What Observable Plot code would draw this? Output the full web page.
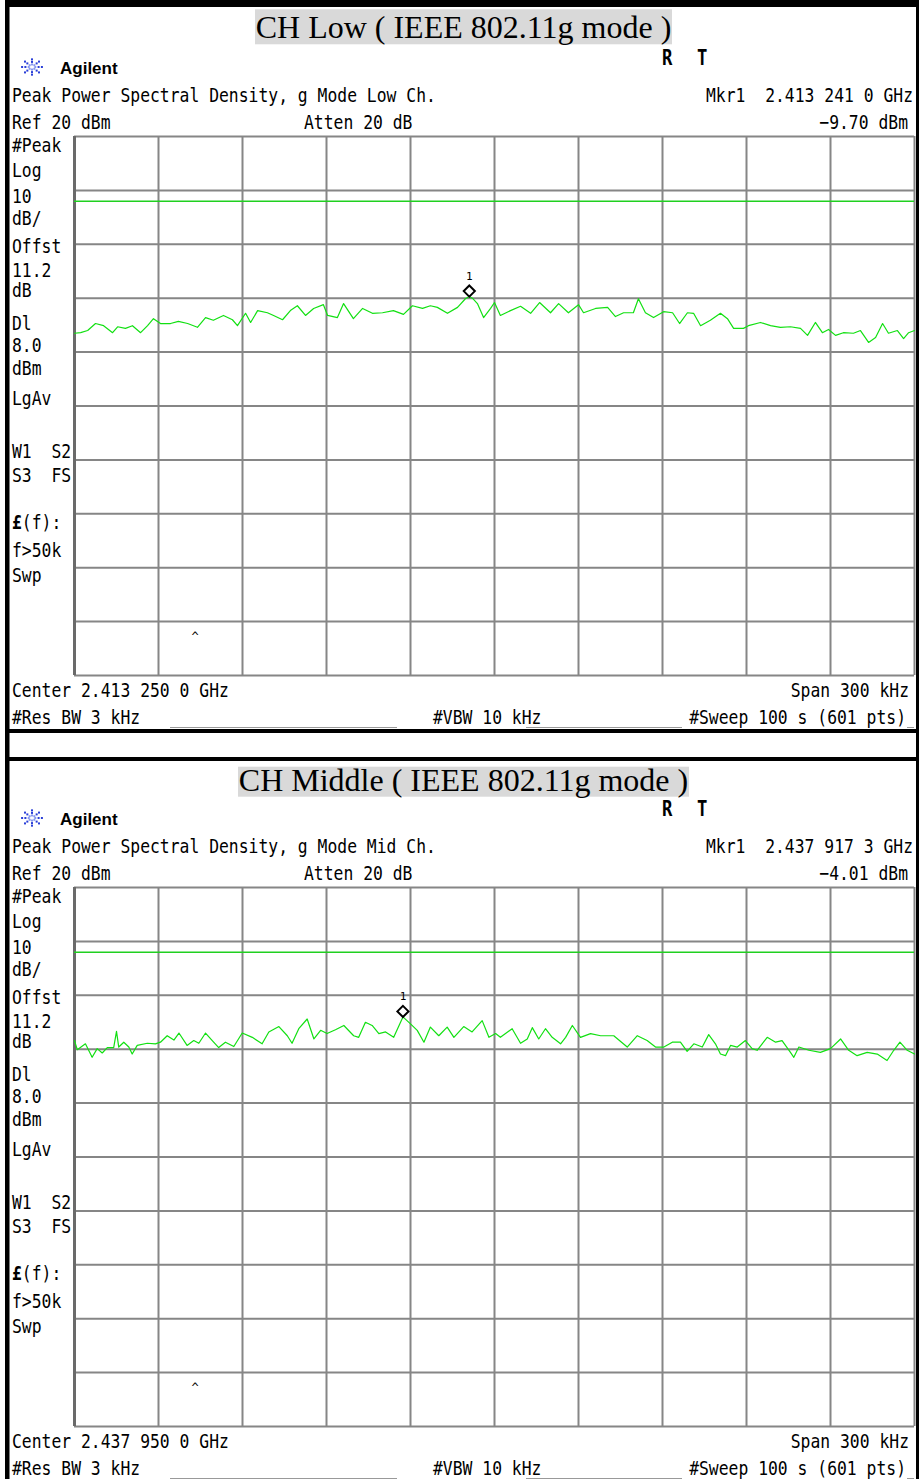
<!DOCTYPE html>
<html><head><meta charset="utf-8">
<script src="https://cdn.jsdelivr.net/npm/d3@7"></script>
<script src="https://cdn.jsdelivr.net/npm/@observablehq/plot@0.6"></script>
<style>
body{margin:0;background:#fff;}
#page{position:relative;width:919px;height:1479px;overflow:hidden;background:#fff;}
.plotwrap{position:absolute;}
#overlay{position:absolute;left:0;top:0;pointer-events:none;}
</style></head><body><div id="page"></div>
<script>
// ---------- data (frequency offset from centre in kHz, level in dBm) ----------
const lowFreqKHz = [-150,-147.8,-145.3,-142.5,-139.6,-136.4,-134.6,-131.8,-129.3,-126.4,
 -123.9,-121.8,-119.3,-115.7,-112.9,-109.6,-106.1,-103.2,-100.4,-96.8,
 -93.6,-91.8,-88.9,-87.1,-84.6,-81.1,-78.9,-75.7,-72.9,-70.4,
 -67.5,-64.6,-61.1,-59.6,-56.1,-53.9,-50.4,-47.1,-43.6,-40.0,
 -36.1,-32.5,-29.3,-25.7,-22.9,-20.4,-16.8,-13.2,-10.4,-9.0,
 -7.9,-6.1,-3.9,-1.4,0,2.1,5.7,9.3,12.9,16.1,
 20.0,22.9,26.4,30.0,31.8,36.1,40.4,43.2,46.1,49.6,
 51.4,53.9,56.8,60.4,63.6,66.1,68.9,71.1,73.6,77.1,
 80.7,83.2,85.4,88.9,90.7,95.0,98.6,102.1,105.7,109.3,
 111.8,114.6,117.1,119.3,121.8,124.6,128.2,130.7,133.6,136.1,
 138.6,140.7,143.9,146.1,147.9,150];
const lowLevelDbm = [-16.5,-16.4,-16.0,-14.7,-15.1,-16.4,-15.3,-15.6,-15.1,-16.4,
 -15.1,-13.8,-14.7,-14.7,-14.3,-14.7,-15.4,-13.6,-14.1,-13.2,
 -14.0,-15.1,-12.8,-14.5,-12.3,-12.7,-13.2,-14.0,-12.3,-11.4,
 -13.2,-11.9,-11.2,-13.2,-13.6,-11.0,-13.8,-11.9,-12.8,-12.7,
 -12.3,-13.0,-11.4,-11.9,-11.4,-11.7,-12.8,-11.7,-10.1,-9.7,
 -10.0,-11.0,-13.6,-11.9,-10.8,-13.2,-12.3,-11.5,-12.8,-10.8,
 -12.7,-11.0,-12.7,-11.2,-12.7,-11.9,-11.7,-13.4,-12.7,-12.7,
 -10.1,-12.7,-13.6,-12.5,-12.7,-14.7,-12.7,-12.8,-15.1,-14.1,
 -12.8,-13.8,-15.6,-15.6,-15.1,-14.5,-15.1,-15.4,-15.3,-15.6,
 -16.9,-14.5,-16.4,-15.8,-16.9,-16.4,-16.5,-16.0,-18.2,-17.3,
 -14.7,-16.5,-16.0,-17.5,-16.4,-16.0];

const midFreqKHz = [-150,-149.0,-146.1,-143.7,-141.9,-140.1,-138.3,-136.0,-135.0,-134.2,
 -132.4,-130.6,-129.4,-127.6,-124.0,-121.1,-119.3,-116.9,-114.5,-112.7,
 -109.8,-107.4,-105.6,-103.2,-100.8,-98.5,-96.1,-93.1,-90.1,-86.5,
 -83.0,-80.6,-77.0,-74.0,-72.3,-69.9,-66.9,-64.5,-62.1,-59.8,
 -56.8,-53.8,-50.3,-48.5,-46.1,-43.7,-41.3,-38.9,-36.0,-32.7,
 -30.0,-27.6,-25.2,-22.9,-19.9,-16.9,-14.5,-11.0,-8.0,-4.4,
 -2.0,0.4,2.1,6.3,9.3,11.7,13.5,15.8,18.2,20.6,
 23.6,25.4,27.8,30.7,34.3,37.9,42.6,47.4,51.0,54.5,
 57.5,60.5,63.5,66.4,68.8,71.2,74.2,76.5,78.9,80.7,
 82.5,84.3,86.7,89.6,92.0,93.8,97.4,100.4,102.7,105.7,
 106.9,108.7,112.3,116.4,120.0,123.6,126.5,129.5,133.1,136.7,
 140.2,142.6,144.8,147.4,150];
const midLevelDbm = [-8.4,-10.1,-9.0,-11.5,-9.9,-10.7,-9.7,-9.7,-6.7,-9.6,
 -8.7,-9.6,-10.9,-9.3,-8.9,-9.0,-8.7,-7.5,-8.3,-7.0,
 -9.3,-8.4,-8.9,-7.0,-8.4,-9.7,-8.7,-9.5,-7.0,-7.8,
 -9.0,-6.8,-5.8,-7.5,-8.9,-6.2,-4.4,-8.1,-6.5,-7.1,
 -6.4,-5.6,-7.5,-7.8,-5.0,-5.6,-7.1,-6.8,-7.8,-4.01,
 -5.3,-6.5,-8.7,-5.9,-7.5,-5.9,-7.8,-5.8,-6.8,-4.7,
 -7.8,-7.1,-7.8,-6.2,-8.9,-8.1,-6.0,-8.1,-6.2,-7.8,
 -9.0,-7.8,-5.6,-7.8,-7.1,-7.5,-7.5,-9.6,-7.5,-8.4,
 -9.6,-9.6,-8.7,-8.7,-10.4,-9.0,-9.6,-7.3,-9.0,-10.9,
 -11.2,-9.3,-9.6,-8.4,-9.9,-10.2,-7.8,-8.7,-8.4,-10.6,
 -11.5,-9.6,-10.2,-10.6,-9.9,-8.1,-10.2,-11.2,-10.6,-10.9,
 -12.1,-10.2,-8.7,-10.2,-10.9];

const lowMarker = [{f: -9.0, level: -9.70}];
const midMarker = [{f: -32.7, level: -4.01}];

const refLevelDbm = 20;
const dbPerDiv = 10;
const divisions = 10;
const spanKHz = 300;
const displayLineDbm = 8.0;

const titles = ["CH Low ( IEEE 802.11g mode )", "CH Middle ( IEEE 802.11g mode )"];
const headings = ["Peak Power Spectral Density, g Mode Low Ch.", "Peak Power Spectral Density, g Mode Mid Ch."];
const markerFreqLabels = ["Mkr1  2.413 241 0 GHz", "Mkr1  2.437 917 3 GHz"];
const markerLevelLabels = ["\u22129.70 dBm", "\u22124.01 dBm"];
const centerLabels = ["Center 2.413 250 0 GHz", "Center 2.437 950 0 GHz"];
const leftLabels = ["#Peak","Log","10","dB/","Offst","11.2","dB","Dl","8.0","dBm","LgAv","W1  S2","S3  FS","(f):","f>50k","Swp"];

// ---------- layout ----------
const page = d3.select("#page");
const panelOffset = [0, 751];
const GRID_LEFT = 74, GRID_TOP = 136, GRID_W = 840, GRID_H = 539, M = 2;
const GREEN = "#12e012";

const traces = [
  {freqs: lowFreqKHz, levels: lowLevelDbm, marker: lowMarker},
  {freqs: midFreqKHz, levels: midLevelDbm, marker: midMarker}
];

traces.forEach((t, i) => {
  const rows = t.freqs.map((f, k) => ({f, level: t.levels[k]}));
  const yMin = refLevelDbm - dbPerDiv * divisions;
  const chart = Plot.plot({
    width: GRID_W + 2 * M, height: GRID_H + 2 * M,
    marginLeft: M, marginRight: M, marginTop: M, marginBottom: M,
    x: {domain: [-spanKHz / 2, spanKHz / 2], axis: null},
    y: {domain: [yMin, refLevelDbm], axis: null},
    marks: [
      Plot.ruleY(d3.range(yMin, refLevelDbm + 1, dbPerDiv), {stroke: "#868686", strokeWidth: 2}),
      Plot.ruleX(d3.range(-spanKHz / 2, spanKHz / 2 + 1, spanKHz / divisions), {stroke: "#868686", strokeWidth: 2}),
      Plot.ruleX([-spanKHz / 2], {stroke: "#6a6a6a", strokeWidth: 3}),
      Plot.ruleY([displayLineDbm], {stroke: "#20d020", strokeWidth: 1.5}),
      Plot.line(rows, {x: "f", y: "level", stroke: GREEN, strokeWidth: 1.2}),
      Plot.dot(t.marker, {x: "f", y: "level", symbol: "diamond2", r: 5, stroke: "#000", strokeWidth: 2, fill: "none", dy: -5.5}),
      Plot.text(t.marker, {x: "f", y: "level", text: () => "1", dy: -20, fontSize: 11, fontFamily: "DejaVu Sans Mono", fill: "#000"})
    ]
  });
  d3.select(chart).style("background", "transparent");
  page.append("div").attr("class", "plotwrap")
    .style("left", (GRID_LEFT - M) + "px")
    .style("top", (GRID_TOP - M + panelOffset[i]) + "px")
    .node().appendChild(chart);
});

// ---------- overlay: frame, titles, instrument annotations ----------
const svg = page.append("svg").attr("id", "overlay").attr("width", 919).attr("height", 1479);

function mono(x, y, str, anchor = "start", o = {}) {
  return svg.append("text")
    .attr("transform", `translate(${x},${y}) scale(${o.sx ?? 0.84},1)`)
    .attr("text-anchor", anchor)
    .attr("font-family", "DejaVu Sans Mono")
    .attr("font-size", o.size ?? 19.5)
    .attr("font-weight", o.bold ? "bold" : "normal")
    .attr("fill", "#000")
    .style("white-space", "pre")
    .text(str);
}

// black borders
[[5, 0, 4.5, 1479], [916, 0, 3, 1479], [5, 0, 914, 7], [5, 729, 914, 4], [5, 757, 914, 4]]
  .forEach(([x, y, w, h]) => svg.append("rect").attr("x", x).attr("y", y).attr("width", w).attr("height", h).attr("fill", "#000"));

// titles
const titleBoxes = [[255, 9.3, 417, 35, 37.6], [238, 766.7, 451, 30, 791]];
titles.forEach((tt, i) => {
  const [x, y, w, h, base] = titleBoxes[i];
  svg.append("rect").attr("x", x).attr("y", y).attr("width", w).attr("height", h).attr("fill", "#d9d9d9");
  svg.append("text").attr("x", x + w / 2).attr("y", base).attr("text-anchor", "middle")
    .attr("font-family", "Liberation Serif").attr("font-size", 32).attr("fill", "#000").text(tt);
});

const leftBase = [152, 177, 203, 225, 253, 277, 297, 330, 352, 375, 405, 458, 482, 529, 557, 582];

[0, 1].forEach(i => {
  const o = panelOffset[i];
  // Agilent logo
  const g = svg.append("g").attr("transform", `translate(32,${67 + o})`);
  for (let a = 0; a < 8; a++) {
    const ang = a * Math.PI / 4;
    for (const r of [3, 6, 9]) {
      g.append("rect").attr("x", Math.cos(ang) * r * 1.1 - 1).attr("y", Math.sin(ang) * r * 0.85 - 1)
        .attr("width", 2).attr("height", 2).attr("fill", r === 3 ? "#8899ee" : "#2a3fd8");
    }
  }
  svg.append("text").attr("x", 60).attr("y", 74 + o).attr("font-family", "Liberation Sans")
    .attr("font-weight", "bold").attr("font-size", 17).attr("fill", "#000").text("Agilent");
  mono(662, 65 + o, "R", "start", {bold: true, size: 21, sx: 0.82});
  mono(697, 65 + o, "T", "start", {bold: true, size: 21, sx: 0.82});

  mono(12, 102 + o, headings[i]);
  mono(913, 102 + o, markerFreqLabels[i], "end");
  mono(12, 129 + o, "Ref 20 dBm");
  mono(304, 129 + o, "Atten 20 dB");
  mono(908, 129 + o, markerLevelLabels[i], "end");

  leftLabels.forEach((lab, k) => {
    if (lab === "(f):") {
      const t = mono(12, leftBase[k] + o, "");
      t.append("tspan").attr("font-weight", "bold").text("\u00a3");
      t.append("tspan").text(lab);
    } else {
      mono(12, leftBase[k] + o, lab);
    }
  });

  mono(195, 641 + o, "^", "middle", {size: 12, sx: 1});

  mono(12, 697 + o, centerLabels[i]);
  mono(909, 697 + o, "Span 300 kHz", "end");
  mono(12, 724 + o, "#Res BW 3 kHz");
  mono(433, 724 + o, "#VBW 10 kHz");
  mono(906, 724 + o, "#Sweep 100 s (601 pts)", "end");
  [[170, 397], [526, 682], [907, 914]].forEach(([a, b]) =>
    svg.append("line").attr("x1", a).attr("x2", b).attr("y1", 727.5 + o).attr("y2", 727.5 + o)
      .attr("stroke", "#999").attr("stroke-width", 1));
});
</script>
</body></html>
